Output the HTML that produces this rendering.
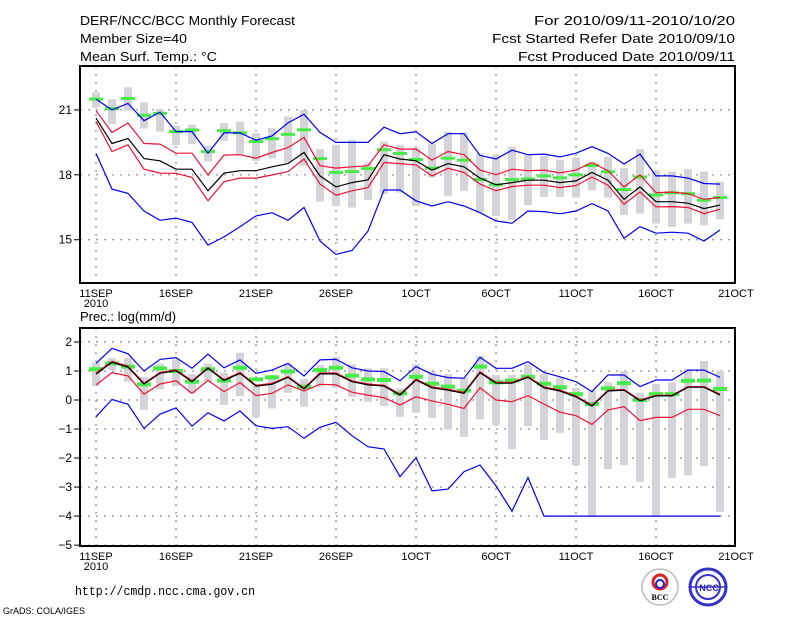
<!DOCTYPE html>
<html><head><meta charset="utf-8"><style>
html,body{margin:0;padding:0;background:#fff;}
svg{display:block;font-family:"Liberation Sans",sans-serif;}
</style></head><body>
<svg id="chart" width="800" height="618" viewBox="0 0 800 618" xmlns="http://www.w3.org/2000/svg">
<g font-size="13" fill="#000">
<text x="80" y="25" textLength="215" lengthAdjust="spacingAndGlyphs">DERF/NCC/BCC Monthly Forecast</text>
<text x="80" y="43" textLength="107" lengthAdjust="spacingAndGlyphs">Member Size=40</text>
<text x="80" y="61" textLength="137" lengthAdjust="spacingAndGlyphs">Mean Surf. Temp.: °C</text>
<text x="534" y="25" textLength="201" lengthAdjust="spacingAndGlyphs">For 2010/09/11-2010/10/20</text>
<text x="492" y="43" textLength="243" lengthAdjust="spacingAndGlyphs">Fcst Started Refer Date 2010/09/10</text>
<text x="518" y="61" textLength="217" lengthAdjust="spacingAndGlyphs">Fcst Produced Date 2010/09/11</text>
</g>
<text x="80" y="321" font-size="13">Prec.: log(mm/d)</text>
<text x="75" y="595" font-size="13" textLength="180" lengthAdjust="spacingAndGlyphs" font-family="Liberation Mono, monospace">http://cmdp.ncc.cma.gov.cn</text>
<text x="3" y="614" font-size="9">GrADS: COLA/IGES</text>
<g>
<circle cx="660" cy="587" r="18" fill="#fff" stroke="#bbb" stroke-width="1.5"/>
<circle cx="660" cy="582" r="7" fill="none" stroke="#d22" stroke-width="3"/>
<circle cx="660" cy="584" r="4" fill="none" stroke="#22c" stroke-width="2"/>
<text x="660" y="600" font-size="8" text-anchor="middle" font-family="Liberation Serif,serif" font-weight="bold">BCC</text>
</g>
<g>
<circle cx="708" cy="587" r="18" fill="#fff" stroke="#33c" stroke-width="3"/>
<circle cx="708" cy="587" r="12" fill="none" stroke="#33c" stroke-width="2"/>
<line x1="690" y1="587" x2="726" y2="587" stroke="#33c" stroke-width="1.5"/>
<text x="709" y="591" font-size="9" text-anchor="middle" fill="#22a" font-weight="bold">NCC</text>
</g>
<g id="plots"></g>
</svg>
<script>
// ===== Top panel: temperature =====
const categories = ["11SEP","16SEP","21SEP","26SEP","1OCT","6OCT","11OCT","16OCT","21OCT"];
const tTicks = [21,18,15];
const tBlueTop = [21.5,21.0,21.3,20.5,20.9,20.0,20.0,19.0,19.94,19.94,19.6,19.8,20.4,20.8,19.96,19.5,19.5,19.5,20.2,19.9,19.99,19.45,19.9,19.9,18.9,18.73,19.14,18.93,18.96,18.83,19.0,19.3,18.99,18.5,18.96,17.95,17.95,17.85,17.6,17.57];
const tBlueBot = [18.99,17.34,17.14,16.33,15.9,16.0,15.8,14.75,15.13,15.6,16.1,16.25,15.9,16.49,14.94,14.32,14.5,15.4,17.3,17.3,16.8,16.56,16.76,16.56,16.25,15.87,15.76,16.33,16.3,16.2,16.33,16.67,16.33,15.07,15.6,15.3,15.35,15.3,14.94,15.45];
const tMean = [20.62,19.45,19.68,18.75,18.65,18.26,18.26,17.26,18.08,18.19,18.19,18.37,18.52,19.03,17.95,17.44,17.64,17.77,18.93,18.73,18.65,18.22,18.52,18.37,17.85,17.54,17.64,17.75,17.75,17.64,17.72,18.11,17.75,16.87,17.44,16.76,16.76,16.69,16.44,16.6];
const tRedTop = [20.96,19.96,20.39,19.45,19.42,19.0,19.0,17.99,18.91,18.93,18.77,19.03,19.26,19.73,18.42,18.31,18.37,18.42,19.39,19.19,19.19,18.68,19.08,18.93,18.22,18.0,18.26,18.19,18.22,18.09,18.22,18.57,18.19,17.44,18.0,17.18,17.2,17.13,16.87,16.95];
const tRedBot = [20.47,19.08,19.39,18.26,18.08,18.07,17.88,16.8,17.68,17.85,17.85,17.99,18.15,18.73,17.57,17.06,17.26,17.41,18.57,18.52,18.46,17.95,18.3,18.11,17.57,17.26,17.46,17.52,17.52,17.41,17.5,17.9,17.52,16.64,17.21,16.52,16.53,16.49,16.21,16.41];
const tGreen = [21.5,21.06,21.53,20.75,20.84,20.0,20.07,19.08,20.04,19.94,19.54,19.67,19.87,20.08,18.75,18.11,18.15,18.29,19.16,18.99,18.71,18.31,18.77,18.68,17.78,17.54,17.78,17.81,17.95,17.86,18.0,18.43,18.14,17.32,17.9,17.07,17.17,17.13,16.83,16.95];
const tBoxHi = [21.81,21.5,22.04,21.35,21.04,20.27,20.31,19.34,20.39,20.45,19.93,20.16,20.69,21.0,19.19,19.39,19.6,18.57,19.53,19.39,19.26,19.42,19.99,19.96,18.99,18.93,19.3,18.93,18.88,18.7,18.8,18.57,18.83,18.31,19.19,18.19,18.15,18.26,18.15,17.68];
const tBoxLo = [21.12,20.35,20.96,20.14,20.0,19.37,19.42,18.62,19.57,18.96,18.65,18.77,18.57,18.42,16.76,16.56,16.49,16.84,17.13,17.18,16.56,17.88,17.03,17.26,16.25,16.1,15.9,16.6,16.98,16.98,16.95,17.29,16.95,16.15,16.21,15.75,15.6,15.75,15.67,15.95];
// ===== Bottom panel: precipitation =====
const pTicks = [2,1,0,-1,-2,-3,-4,-5];
const pBlueTop = [1.26,1.78,1.59,1.0,1.4,1.46,1.09,1.58,1.11,1.38,0.92,1.03,1.26,0.83,1.38,1.4,1.11,1.0,0.98,0.66,1.15,0.89,0.77,0.75,1.47,1.09,1.09,1.32,0.95,0.8,0.63,0.29,0.86,0.86,0.46,0.69,0.69,1.03,1.03,0.78];
const pBlueBot = [-0.58,0.02,-0.15,-0.98,-0.49,-0.27,-0.9,-0.44,-0.72,-0.38,-0.89,-0.98,-0.92,-1.32,-0.94,-0.77,-1.23,-1.61,-1.69,-2.64,-1.99,-3.13,-3.07,-2.47,-2.24,-2.96,-3.83,-2.67,-4,-4,-4,-4,-4,-4,-4,-4,-4,-4,-4,-4];
const pMean = [0.89,1.3,1.13,0.55,0.92,1.01,0.63,1.09,0.67,0.92,0.48,0.54,0.78,0.38,0.9,0.9,0.63,0.52,0.48,0.17,0.69,0.42,0.34,0.23,0.94,0.58,0.58,0.78,0.42,0.31,0.11,-0.21,0.31,0.34,-0.03,0.14,0.14,0.44,0.44,0.17];
const pRedTop = [0.93,1.33,1.17,0.58,0.95,1.04,0.66,1.12,0.7,0.95,0.51,0.57,0.81,0.41,0.93,0.93,0.66,0.55,0.51,0.2,0.72,0.45,0.37,0.26,0.97,0.61,0.61,0.81,0.45,0.34,0.14,-0.18,0.33,0.36,0.0,0.16,0.16,0.46,0.46,0.2];
const pRedBot = [0.52,0.94,0.83,0.2,0.55,0.66,0.23,0.67,0.29,0.6,0.15,0.23,0.52,0.31,0.54,0.52,0.27,0.17,0.08,-0.17,0.11,-0.03,-0.15,-0.29,0.42,0.0,-0.06,0.15,-0.14,-0.42,-0.54,-0.84,-0.34,-0.23,-0.71,-0.6,-0.6,-0.32,-0.32,-0.54];
const pGreen = [1.06,1.26,1.15,0.54,1.09,1.0,0.63,1.06,0.67,1.11,0.71,0.78,0.98,0.46,1.03,1.11,0.84,0.71,0.69,0.23,0.8,0.56,0.46,0.32,1.15,0.61,0.67,0.8,0.56,0.44,0.2,-0.14,0.4,0.58,0.0,0.2,0.2,0.66,0.67,0.38];
const pBoxHi = [1.29,1.44,1.44,0.8,1.26,1.4,0.89,1.26,0.94,1.63,0.48,0.86,1.26,0.72,1.2,1.49,1.23,1.09,1.09,0.4,1.23,0.98,0.89,0.77,1.52,0.86,0.86,1.23,0.9,0.77,0.42,0.31,0.61,1.0,0.25,0.54,0.61,1.07,1.34,1.0];
const pBoxLo = [0.48,1.03,0.63,-0.34,0.37,0.48,0.23,0.63,-0.17,0.14,-0.58,-0.29,0.25,-0.23,0.46,0.42,0.11,-0.06,-0.21,-0.58,-0.44,-0.61,-1.01,-1.27,-0.66,-0.86,-1.69,-0.9,-1.38,-1.13,-2.24,-3.99,-2.38,-2.24,-2.82,-3.99,-2.68,-2.59,-2.28,-3.85];

const NS="http://www.w3.org/2000/svg";
const root=document.getElementById('plots');
function mk(tag,attrs,parent){const e=document.createElementNS(NS,tag);for(const k in attrs)e.setAttribute(k,attrs[k]);(parent||root).appendChild(e);return e;}
const xOf=i=>96+16*i;

function panel(name,top,bot,vmax,vmin,ticks,series,boxHi,boxLo,green,gh){
  const g=mk('g',{});
  
  
  const yOf=v=>top+(vmax-v)/(vmax-vmin)*(bot-top);
  categories.forEach((c,k)=>{
    const x=xOf(k*5);
    if(k<8){const l=mk('line',{x1:x,x2:x,y1:top,y2:bot,stroke:'#777','stroke-dasharray':'2,6','stroke-width':1},g);
    
    }
    const t=mk('text',{x:x,y:bot+14,'font-size':11,'text-anchor':'middle'},g);
    t.textContent=c;
    
    
  });
  const yr=mk('text',{x:96,y:bot+24,'font-size':11,'text-anchor':'middle'},g);yr.textContent='2010';
  
  
  ticks.forEach(v=>{
    const y=yOf(v);
    const l=mk('line',{x1:80,x2:735,y1:y,y2:y,stroke:'#777','stroke-dasharray':'2,6','stroke-width':1},g);
    
    
    mk('line',{x1:74,x2:80,y1:y,y2:y,stroke:'#000','stroke-width':1},g);
    const t=mk('text',{x:72,y:y+4,'font-size':12,'text-anchor':'end'},g);t.textContent=String(v).replace('-','−');
    
    
  });
  boxHi.forEach((h,i)=>{
    const y1=yOf(h),y2=yOf(boxLo[i]);
    const r=mk('rect',{x:xOf(i)-4,y:y1,width:8,height:Math.max(1,y2-y1),fill:'#d3d3d8'},g);
    
    
  });
  green.forEach((v,i)=>{
    const r=mk('rect',{x:xOf(i)-7,y:yOf(v)-gh/2,width:14,height:gh,fill:'#44ee44'},g);
    
    
  });
  series.forEach(s=>{
    const pts=s.d.map((v,i)=>xOf(i)+','+yOf(v).toFixed(1)).join(' ');
    const p=mk('polyline',{points:pts,fill:'none',stroke:s.c,'stroke-width':1.2},g);
    
    
  });
  const f=mk('rect',{x:80,y:top,width:655,height:bot-top,fill:'none',stroke:'#000','stroke-width':2},g);
  
  
}
panel('temperature-panel',66,283,23.03,13.0,tTicks,[
 {d:tBlueTop,c:'#0000ee',n:'max-line'},{d:tBlueBot,c:'#0000ee',n:'min-line'},
 {d:tRedTop,c:'#ee1133',n:'upper-quartile-line'},{d:tRedBot,c:'#ee1133',n:'lower-quartile-line'},
 {d:tMean,c:'#000',n:'mean-line'}],tBoxHi,tBoxLo,tGreen,3);
panel('precipitation-panel',328,546,2.48,-5.03,pTicks,[
 {d:pBlueTop,c:'#0000ee',n:'max-line'},{d:pBlueBot,c:'#0000ee',n:'min-line'},
 {d:pRedBot,c:'#ee1133',n:'lower-quartile-line'},{d:pRedTop,c:'#ee1133',n:'upper-quartile-line'},
 {d:pMean,c:'#000',n:'mean-line'}],pBoxHi,pBoxLo,pGreen,4);
</script>
</body></html>
